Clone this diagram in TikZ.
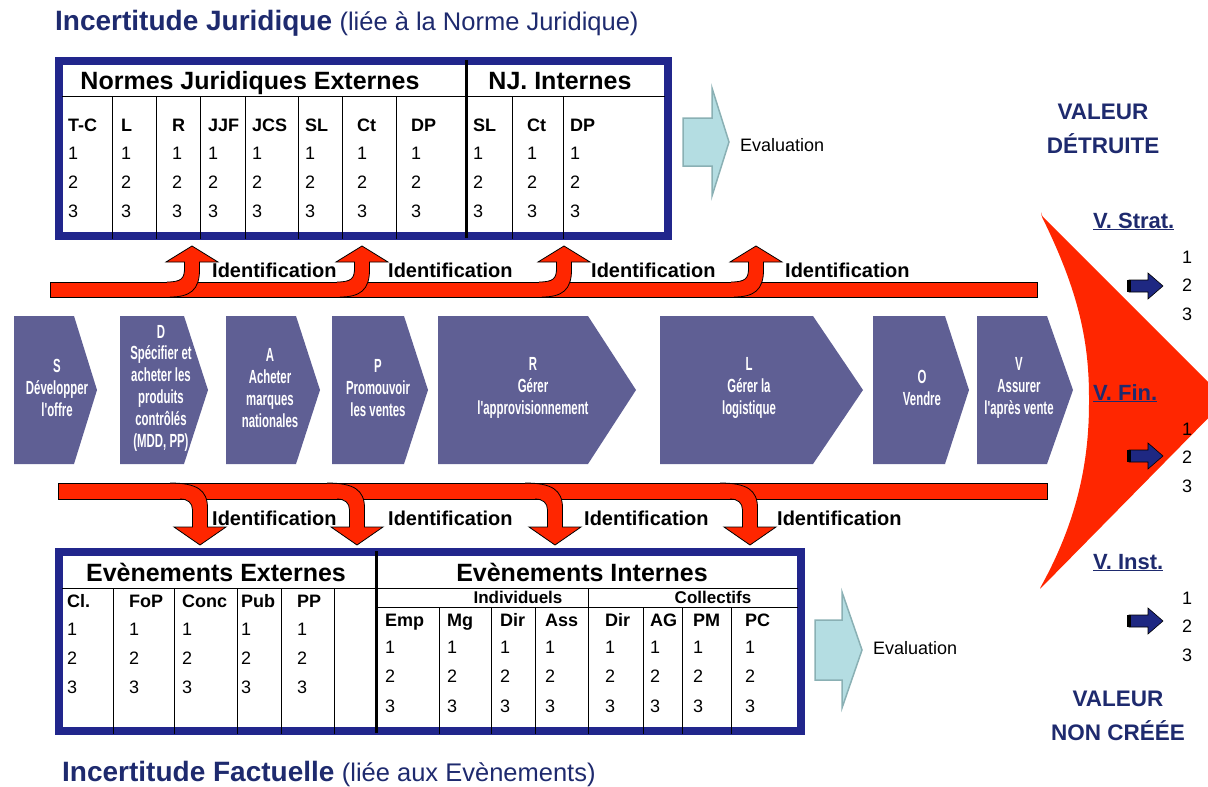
\documentclass[tikz,border=0pt]{standalone}
\usepackage{fontspec}
\setmainfont{Liberation Sans}
\newfontfamily\chevfont[FakeStretch=0.6]{Liberation Sans}
\usepackage{tikz}
\usetikzlibrary{positioning}
\definecolor{navy}{RGB}{33,38,140}
\definecolor{titlenavy}{RGB}{30,42,110}
\definecolor{chevron}{RGB}{95,95,148}
\definecolor{arrowred}{RGB}{255,38,0}
\definecolor{evalfill}{RGB}{180,221,226}
\definecolor{evaldraw}{RGB}{138,176,180}
\definecolor{valnavy}{RGB}{30,40,130}
\newcommand{\fsz}[1]{\fontsize{#1}{#1}\selectfont}
\newcommand{\chevtext}{\chevfont\bfseries\fontsize{19}{21.8}\selectfont}

\begin{document}
\begin{tikzpicture}[x=1pt, y=-1pt, every node/.style={inner sep=0pt},
    headline/.style={anchor=base west, text=titlenavy, font=\bfseries\fsz{28}},
    subline/.style={anchor=base west, text=titlenavy, font=\fsz{25.5}},
    tableframe/.style={draw=navy, line width=8pt, fill=white},
    rule/.style={draw=black, line width=1pt},
    tablehead/.style={anchor=base, font=\bfseries\fsz{25}},
    subhead/.style={anchor=base, font=\bfseries\fsz{17}},
    collab/.style={anchor=base west, font=\bfseries\fsz{18}},
    cellnum/.style={anchor=base west, font=\fsz{18}},
    chev/.style={fill=chevron},
    chevlabel/.style={text=white, align=center, font=\chevtext},
    band/.style={fill=arrowred, draw=black, line width=0.8pt},
    outline/.style={draw=black, line width=0.8pt},
    ident/.style={anchor=base west, font=\bfseries\fsz{20}},
    evalarrow/.style={fill=evalfill, draw=evaldraw, line width=1.5pt},
    evaltext/.style={anchor=base west, font=\fsz{18}},
    valtitle/.style={anchor=base, text=titlenavy, font=\bfseries\fsz{22.5}},
    vlabel/.style={anchor=base west, text=titlenavy, font=\bfseries\fsz{22}},
    vnum/.style={anchor=base, font=\fsz{18}},
    smallarrow/.style={fill=valnavy, draw=black, line width=0.6pt}]
    \useasboundingbox (0,0) rectangle (1208,787);
    \clip (0,0) rectangle (1208,787);

    % titles
    \node (tj) [headline] at (55,30) {Incertitude Juridique};
    \node (tjp) [subline, right=7pt of tj.base east, anchor=base west] {(liée à la Norme Juridique)};
    \node (tf) [headline] at (62,781) {Incertitude Factuelle};
    \node (tfp) [subline, right=7pt of tf.base east, anchor=base west] {(liée aux Evènements)};

    % big red arrow on the right
    \fill[arrowred, rounded corners=3pt] (1041,215) -- (1226,400) -- (1039,590)
        .. controls (1078,520) and (1089,460) .. (1089,400)
        .. controls (1089,340) and (1078,290) .. cycle;

    % norms table
    \draw[tableframe] (59,61) rectangle (668,236);
    \draw[rule] (62,96) -- (665,96);
    \foreach \xx in {112,156,200,245,298,342,396,512,563}
        \draw[rule] (\xx,96) -- (\xx,239);
    \draw[line width=3pt] (466,60) -- (466,238);
    \node (nje) [tablehead] at (250,89) {Normes Juridiques Externes};
    \node (nji) [tablehead] at (560,89) {NJ. Internes};
    \foreach \lab/\xx [count=\c] in {T-C/68, L/121, R/172, JJF/208, JCS/252, SL/305, Ct/357, DP/411, SL/473, Ct/527, DP/570} {
        \node (nj\c) [collab] at (\xx,131.5) {\lab};
        \foreach \r/\yy in {1/159.5, 2/188.5, 3/217.5}
            \node (nj\c-\r) [cellnum] at (\xx,\yy) {\r};
    }

    % events table
    \draw[tableframe] (59,552) rectangle (801,731);
    \draw[rule] (62,588) -- (798,588);
    \draw[rule] (376,607) -- (798,607);
    \foreach \xx in {113,174,237,281,334,588}
        \draw[rule] (\xx,588) -- (\xx,734);
    \foreach \xx in {439,491,535,643,682,731}
        \draw[rule] (\xx,607) -- (\xx,734);
    \draw[line width=3pt] (376,551) -- (376,733);
    \node (eve) [tablehead] at (216,581) {Evènements Externes};
    \node (evi) [tablehead] at (582,581) {Evènements Internes};
    \node (ind) [subhead] at (518,603) {Individuels};
    \node (col) [subhead] at (713,603) {Collectifs};
    \foreach \lab/\xx [count=\c] in {Cl./67, FoP/129, Conc/182, Pub/241, PP/297} {
        \node (ee\c) [collab] at (\xx,607.5) {\lab};
        \foreach \r/\yy in {1/635.5, 2/664.5, 3/693.5}
            \node (ee\c-\r) [cellnum] at (\xx,\yy) {\r};
    }
    \foreach \lab/\xx [count=\c] in {Emp/385, Mg/447, Dir/500, Ass/545, Dir/605, AG/650, PM/693, PC/745} {
        \node (ei\c) [collab] at (\xx,626.5) {\lab};
        \foreach \r/\yy in {1/653.5, 2/682.5, 3/712.5}
            \node (ei\c-\r) [cellnum] at (\xx,\yy) {\r};
    }

    % evaluation arrows
    \draw[evalarrow] (683,118) -- (712,118) -- (712,88) -- (729,142) -- (712,196) -- (712,166) -- (683,166) -- cycle;
    \node (eval1) [evaltext] at (740,151.5) {Evaluation};
    \draw[evalarrow] (815,620) -- (842,620) -- (842,592) -- (862,650) -- (842,708) -- (842,680) -- (815,680) -- cycle;
    \node (eval2) [evaltext] at (873,654.5) {Evaluation};

    % value chain
    \fill[chev] (14,316) -- (74,316) -- (97,390) -- (74,464) -- (14,464) -- cycle;
    \fill[chev] (120,316) -- (184,316) -- (208,390) -- (184,464) -- (120,464) -- cycle;
    \fill[chev] (226,316) -- (296,316) -- (320,390) -- (296,464) -- (226,464) -- cycle;
    \fill[chev] (332,316) -- (404,316) -- (428,390) -- (404,464) -- (332,464) -- cycle;
    \fill[chev] (438,316) -- (588,316) -- (636,390) -- (588,464) -- (438,464) -- cycle;
    \fill[chev] (660,316) -- (813,316) -- (863,390) -- (813,464) -- (660,464) -- cycle;
    \fill[chev] (873,316) -- (945,316) -- (969,390) -- (945,464) -- (873,464) -- cycle;
    \fill[chev] (977,316) -- (1047,316) -- (1073,390) -- (1047,464) -- (977,464) -- cycle;
    \node (S) [chevlabel] at (57,388) {S\\Développer\\l'offre};
    \node (D) [chevlabel] at (161,388) {D\\Spécifier et\\acheter les\\produits\\contrôlés\\(MDD, PP)};
    \node (A) [chevlabel] at (270,388) {A\\Acheter\\marques\\nationales};
    \node (P) [chevlabel] at (378,388) {P\\Promouvoir\\les ventes};
    \node (R) [chevlabel] at (533,388) {R\\Gérer\\l'approvisionnement};
    \node (L) [chevlabel] at (749,388) {L\\Gérer la\\logistique};
    \node (O) [chevlabel] at (922,388) {O\\Vendre};
    \node (V) [chevlabel] at (1019,388) {V\\Assurer\\l'après vente};

    % identification arrows, top
    \draw[band] (50,282) rectangle (1037,297);
    \foreach \x in {192,362,564,756} {
        \fill[arrowred] (\x-25,282) .. controls (\x-10,282) and (\x-7.5,278) .. (\x-7.5,268)
            -- (\x-7.5,262) -- (\x-26,262) -- (\x,246) -- (\x+26,262) -- (\x+7.5,262) -- (\x+7.5,270)
            .. controls (\x+7.5,290) and (\x-2,296.4) .. (\x-22,296.4) -- cycle;
        \draw[outline] (\x-25,282) .. controls (\x-10,282) and (\x-7.5,278) .. (\x-7.5,268)
            -- (\x-7.5,262) -- (\x-26,262) -- (\x,246) -- (\x+26,262) -- (\x+7.5,262) -- (\x+7.5,270)
            .. controls (\x+7.5,290) and (\x-2,297) .. (\x-22,297);
    }
    \node (id1) [ident] at (212,277) {Identification};
    \node (id2) [ident] at (388,277) {Identification};
    \node (id3) [ident] at (591,277) {Identification};
    \node (id4) [ident] at (785,277) {Identification};

    % identification arrows, bottom
    \draw[band] (58,483) rectangle (1047,499);
    \foreach \x in {200,357,555,750} {
        \fill[arrowred] (\x-30,483.6) .. controls (\x-3,483.6) and (\x+7.5,490) .. (\x+7.5,508)
            -- (\x+7.5,527) -- (\x+26,527) -- (\x,545) -- (\x-26,527) -- (\x-7.5,527) -- (\x-7.5,510)
            .. controls (\x-7.5,503) and (\x-12,498.4) .. (\x-20,498.4) -- (\x-30,498.4) -- cycle;
        \draw[outline] (\x-30,483) .. controls (\x-3,483) and (\x+7.5,490) .. (\x+7.5,508)
            -- (\x+7.5,527) -- (\x+26,527) -- (\x,545) -- (\x-26,527) -- (\x-7.5,527) -- (\x-7.5,510)
            .. controls (\x-7.5,503) and (\x-12,499) .. (\x-20,499);
    }
    \node (id5) [ident] at (212,525) {Identification};
    \node (id6) [ident] at (388,525) {Identification};
    \node (id7) [ident] at (584,525) {Identification};
    \node (id8) [ident] at (777,525) {Identification};

    % values on the right
    \node (vd1) [valtitle] at (1103,119) {VALEUR};
    \node (vd2) [valtitle] at (1103,153) {DÉTRUITE};
    \node (vn1) [valtitle] at (1118,706) {VALEUR};
    \node (vn2) [valtitle] at (1118,740) {NON CRÉÉE};
    \foreach \lab/\yy/\ay [count=\c] in {V. Strat./228/286, V. Fin./400/456, V. Inst./569/621} {
        \node (vl\c) [vlabel] at (1093,\yy) {\underline{\lab}};
        \foreach \r/\dy in {1/35.5, 2/63.5, 3/92.5}
            \node (vl\c-\r) [vnum] at (1187,\yy+\dy) {\r};
        \draw[smallarrow] (1129,\ay-6) -- (1148,\ay-6) -- (1148,\ay-13) -- (1163,\ay) -- (1148,\ay+13)
            -- (1148,\ay+6) -- (1129,\ay+6) -- cycle;
        \fill[black] (1127,\ay-6) rectangle (1131,\ay+6);
    }
\end{tikzpicture}
\end{document}
